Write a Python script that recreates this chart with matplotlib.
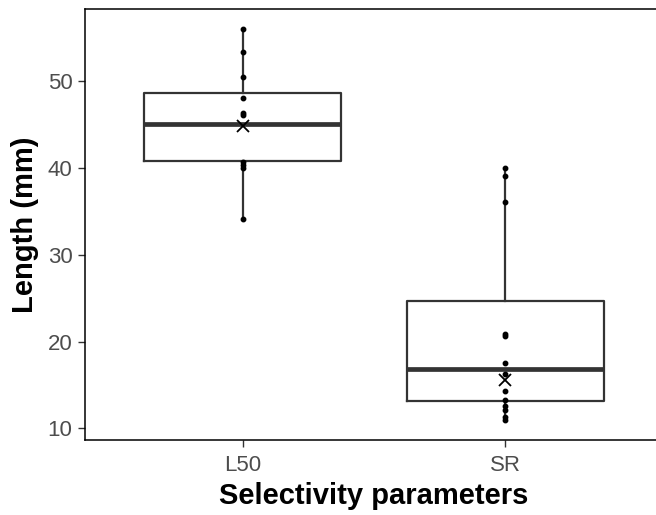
import matplotlib.pyplot as plt

plt.rcParams['font.family'] = ['Liberation Sans', 'DejaVu Sans']

# categories on the x axis
groups = ['L50', 'SR']

# individual observations (mm)
l50_points = [56.1, 53.4, 50.5, 48.1, 46.4, 46.1, 40.7, 40.4, 40.0, 34.1]
sr_points = [40.0, 39.1, 36.1, 20.9, 20.6, 17.5, 16.2, 14.3, 13.2, 12.6, 12.1, 11.3, 10.9]

# box statistics
whisker_low = [34.1, 10.9]
q1 = [40.8, 13.1]
median = [45.1, 16.8]
q3 = [48.7, 24.7]
whisker_high = [56.1, 40.0]

# mean (x marker)
means = [44.9, 15.6]

positions = [1, 2]
stats = []
for i, g in enumerate(groups):
    stats.append({'label': g, 'whislo': whisker_low[i], 'q1': q1[i], 'med': median[i],
                  'q3': q3[i], 'whishi': whisker_high[i], 'fliers': []})

fig = plt.figure(figsize=(6.56, 5.15), dpi=100)
ax = fig.add_axes([85 / 656, 75 / 515, 578 / 656, 431 / 515])

edge = '#333333'
ax.bxp(stats, positions=positions, widths=0.75, showfliers=False, showcaps=False,
       boxprops=dict(color=edge, linewidth=1.6),
       whiskerprops=dict(color=edge, linewidth=1.6),
       medianprops=dict(color=edge, linewidth=3.4, solid_capstyle='butt'))

# points on top of the boxes
ax.plot([positions[0]] * len(l50_points), l50_points, 'o', color='black', ms=3.2, zorder=3)
ax.plot([positions[1]] * len(sr_points), sr_points, 'o', color='black', ms=3.2, zorder=3)
ax.plot(positions, means, 'x', color='black', ms=9, mew=1.3, zorder=4)

# ggplot-like limits
all_vals = l50_points + sr_points
lo, hi = min(all_vals), max(all_vals)
pad = 0.05 * (hi - lo)
ax.set_ylim(lo - pad, hi + pad)
ax.set_xlim(0.4, 2.6)
ax.set_xticks(positions)
ax.set_xticklabels(groups)
ax.set_yticks([10, 20, 30, 40, 50])

for s in ['top', 'left', 'bottom', 'right']:
    ax.spines[s].set_color('black')
    ax.spines[s].set_linewidth(1.1)
ax.tick_params(length=5, width=1.0, color=edge, labelcolor='#4D4D4D', labelsize=16, pad=4)
ax.tick_params(axis='x', pad=6)

ax.set_xlabel('Selectivity parameters', fontsize=21, fontweight='bold', labelpad=4)
ax.set_ylabel('Length (mm)', fontsize=21, fontweight='bold', labelpad=6)

fig.savefig('out.png', dpi=100)
